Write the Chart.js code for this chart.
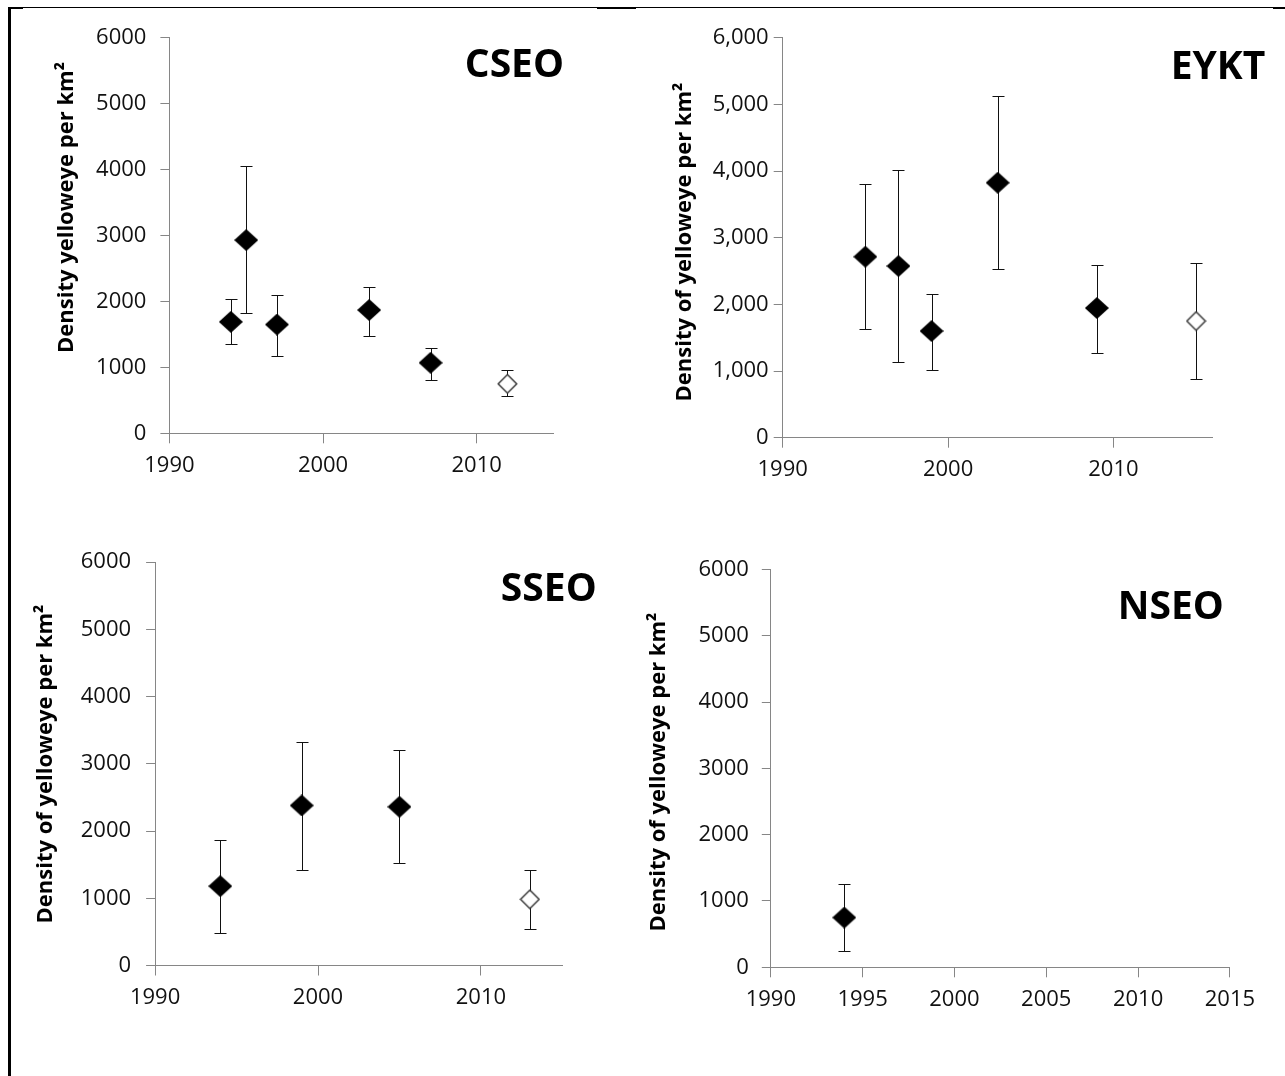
<!DOCTYPE html>
<html>
<head>
<meta charset="utf-8">
<title>Density of yelloweye per km2</title>
<script src="https://cdn.jsdelivr.net/npm/chart.js@4.4.1/dist/chart.umd.min.js"></script>
<style>
  html, body { margin: 0; padding: 0; background: #fff; }
  body { width: 1285px; height: 1076px; position: relative; overflow: hidden; }
  .panel { position: absolute; }
  .rule { position: absolute; background: #000; }
</style>
</head>
<body>
<div class="rule" style="left:8px;top:7px;width:1277px;height:1px"></div>
<div class="rule" style="left:8px;top:7px;width:3px;height:1069px"></div>
<div class="rule" style="left:8px;top:7px;width:15px;height:2px"></div>
<div class="rule" style="left:597px;top:7px;width:39px;height:2px"></div>
<div class="rule" style="left:1273px;top:7px;width:12px;height:2px"></div>

<canvas class="panel" id="cseo" width="580" height="500" style="left:20px;top:10px"></canvas>
<canvas class="panel" id="eykt" width="645" height="500" style="left:640px;top:10px"></canvas>
<canvas class="panel" id="sseo" width="600" height="520" style="left:20px;top:530px"></canvas>
<canvas class="panel" id="nseo" width="645" height="520" style="left:640px;top:530px"></canvas>

<script>
// Density estimates (fish per km2) with lower / upper bounds, per management area.
// Years listed in *OpenYears are the newest estimates, drawn as open diamonds.
const cseoYears = [1994, 1995, 1997, 2003, 2007, 2012];
const cseoDensity = [1690, 2930, 1650, 1870, 1070, 750];
const cseoLow = [1350, 1820, 1170, 1480, 810, 560];
const cseoHigh = [2030, 4060, 2090, 2220, 1300, 960];
const cseoOpenYears = [2012];

const eyktYears = [1995, 1997, 1999, 2003, 2009, 2015];
const eyktDensity = [2715, 2575, 1600, 3825, 1945, 1750];
const eyktLow = [1630, 1130, 1015, 2535, 1265, 880];
const eyktHigh = [3810, 4015, 2150, 5130, 2590, 2625];
const eyktOpenYears = [2015];

const sseoYears = [1994, 1999, 2005, 2013];
const sseoDensity = [1180, 2380, 2360, 985];
const sseoLow = [490, 1425, 1520, 545];
const sseoHigh = [1865, 3330, 3210, 1425];
const sseoOpenYears = [2013];

const nseoYears = [1994];
const nseoDensity = [750];
const nseoLow = [250];
const nseoHigh = [1255];
const nseoOpenYears = [];

// tick values and their labels
const yTickValues = [0, 1000, 2000, 3000, 4000, 5000, 6000];
const yTickLabels = ['0', '1000', '2000', '3000', '4000', '5000', '6000'];
const yTickLabelsComma = ['0', '1,000', '2,000', '3,000', '4,000', '5,000', '6,000'];
const decadeTicks = [1990, 2000, 2010];
const decadeLabels = ['1990', '2000', '2010'];
const fiveYearTicks = [1990, 1995, 2000, 2005, 2010, 2015];
const fiveYearLabels = ['1990', '1995', '2000', '2005', '2010', '2015'];

const axisGray = '#868686';
const tickFont = { family: 'Open Sans', size: 22 };

// Diamond marker drawn once into a small canvas, used as a Chart.js pointStyle.
const makeDiamond = function makeDiamondCanvas(w, h, fill, stroke, lineWidth) {
  const c = document.createElement('canvas');
  c.width = w;
  c.height = h;
  const g = c.getContext('2d');
  const inset = stroke ? lineWidth / 2 + 0.5 : 0;
  g.beginPath();
  g.moveTo(w / 2, inset);
  g.lineTo(w - inset, h / 2);
  g.lineTo(w / 2, h - inset);
  g.lineTo(inset, h / 2);
  g.closePath();
  g.fillStyle = fill;
  g.fill();
  if (stroke) {
    g.lineWidth = lineWidth;
    g.strokeStyle = stroke;
    g.stroke();
  }
  return c;
};

const filledDiamond = makeDiamond(24, 22, '#000', null, 0);
const openDiamond = makeDiamond(21, 21, '#fff', '#3a3a3a', 1.5);

// Vertical error bars with caps, placed through the chart's own scales.
const errorBars = {
  id: 'errorBars',
  beforeDatasetsDraw(chart) {
    const { ctx } = chart;
    const yScale = chart.scales.y;
    ctx.save();
    ctx.strokeStyle = '#111';
    ctx.lineWidth = 1;
    chart.data.datasets.forEach((ds, i) => {
      chart.getDatasetMeta(i).data.forEach((pt, j) => {
        const raw = ds.data[j];
        const x = Math.round(pt.x) + 0.5;
        const top = Math.round(yScale.getPixelForValue(raw.high)) + 0.5;
        const bottom = Math.round(yScale.getPixelForValue(raw.low)) + 0.5;
        ctx.beginPath();
        ctx.moveTo(x, top);
        ctx.lineTo(x, bottom);
        ctx.moveTo(x - 6, top);
        ctx.lineTo(x + 6, top);
        ctx.moveTo(x - 6, bottom);
        ctx.lineTo(x + 6, bottom);
        ctx.stroke();
      });
    });
    ctx.restore();
  },
};

// Area name in the corner and the rotated y-axis title.
const panelText = {
  id: 'panelText',
  afterDraw(chart, args, opts) {
    const { ctx, chartArea } = chart;
    ctx.save();
    ctx.fillStyle = '#000';
    ctx.font = 'bold 39px "Open Sans"';
    ctx.textAlign = 'right';
    ctx.textBaseline = 'alphabetic';
    ctx.fillText(opts.name, chartArea.right + opts.nameDx, chartArea.top + opts.nameDy);

    ctx.translate(opts.titleX, opts.titleY);
    ctx.rotate(-Math.PI / 2);
    ctx.font = 'bold 22px "Open Sans"';
    ctx.textAlign = 'center';
    ctx.textBaseline = 'middle';
    ctx.fillText(opts.yTitle, 0, 0);
    ctx.restore();
  },
};

const panels = [
  {
    id: 'cseo', name: 'CSEO', yTitle: 'Density yelloweye per km\u00b2',
    years: cseoYears, density: cseoDensity, low: cseoLow, high: cseoHigh, openYears: cseoOpenYears,
    xMax: 2015, xTicks: decadeTicks, xLabels: decadeLabels, yLabels: yTickLabels,
    yWidth: 149.4, xHeight: 76.7, padTop: 27.7, padRight: 46.5, yPad: 14,
    nameDx: 10.5, nameDy: 39.6, titleX: 46.7, titleY: 197.5,
  },
  {
    id: 'eykt', name: 'EYKT', yTitle: 'Density of yelloweye per km\u00b2',
    years: eyktYears, density: eyktDensity, low: eyktLow, high: eyktHigh, openYears: eyktOpenYears,
    xMax: 2016, xTicks: decadeTicks, xLabels: decadeLabels, yLabels: yTickLabelsComma,
    yWidth: 142.7, xHeight: 72.3, padTop: 27.7, padRight: 72.4, yPad: 5,
    nameDx: 52.7, nameDy: 41.3, titleX: 45, titleY: 232,
  },
  {
    id: 'sseo', name: 'SSEO', yTitle: 'Density of yelloweye per km\u00b2',
    years: sseoYears, density: sseoDensity, low: sseoLow, high: sseoHigh, openYears: sseoOpenYears,
    xMax: 2015, xTicks: decadeTicks, xLabels: decadeLabels, yLabels: yTickLabels,
    yWidth: 135.1, xHeight: 84.5, padTop: 32, padRight: 57.6, yPad: 15,
    nameDx: 34.3, nameDy: 39.4, titleX: 25.7, titleY: 234,
  },
  {
    id: 'nseo', name: 'NSEO', yTitle: 'Density of yelloweye per km\u00b2',
    years: nseoYears, density: nseoDensity, low: nseoLow, high: nseoHigh, openYears: nseoOpenYears,
    xMax: 2015, xTicks: fiveYearTicks, xLabels: fiveYearLabels, yLabels: yTickLabels,
    yWidth: 130.8, xHeight: 82.7, padTop: 39.4, padRight: 55.1, yPad: 13,
    nameDx: -6, nameDy: 49.6, titleX: 18.5, titleY: 242,
  },
];

const buildPoints = function buildPoints(p, wantOpen) {
  const points = [];
  p.years.forEach((year, i) => {
    if (p.openYears.includes(year) === wantOpen) {
      points.push({ x: year, y: p.density[i], low: p.low[i], high: p.high[i] });
    }
  });
  return points;
};

const renderPanel = function renderPanel(p) {
  new Chart(document.getElementById(p.id), {
    type: 'scatter',
    data: {
      datasets: [
        {
          label: p.name,
          data: buildPoints(p, false),
          pointStyle: filledDiamond,
          pointRadius: 12,
        },
        {
          label: p.name + ' latest',
          data: buildPoints(p, true),
          pointStyle: openDiamond,
          pointRadius: 10,
        },
      ],
    },
    options: {
      responsive: false,
      animation: false,
      events: [],
      layout: { padding: { top: p.padTop, right: p.padRight, bottom: 0, left: 0 } },
      plugins: {
        legend: { display: false },
        tooltip: { enabled: false },
        panelText: {
          name: p.name, yTitle: p.yTitle,
          nameDx: p.nameDx, nameDy: p.nameDy, titleX: p.titleX, titleY: p.titleY,
        },
      },
      scales: {
        x: {
          type: 'linear',
          min: 1990,
          max: p.xMax,
          afterBuildTicks: (scale) => { scale.ticks = p.xTicks.map((v) => ({ value: v })); },
          afterFit: (scale) => { scale.height = p.xHeight; },
          grid: { drawOnChartArea: false, tickLength: 10, color: axisGray },
          border: { color: axisGray },
          ticks: {
            padding: 9,
            color: '#111',
            font: tickFont,
            maxRotation: 0,
            autoSkip: false,
            callback: (v) => p.xLabels[p.xTicks.indexOf(v)],
          },
        },
        y: {
          min: 0,
          max: 6000,
          afterBuildTicks: (scale) => { scale.ticks = yTickValues.map((v) => ({ value: v })); },
          afterFit: (scale) => { scale.width = p.yWidth; },
          grid: { drawOnChartArea: false, tickLength: 9, color: axisGray },
          border: { color: axisGray },
          ticks: {
            padding: p.yPad,
            color: '#111',
            font: tickFont,
            autoSkip: false,
            callback: (v) => p.yLabels[yTickValues.indexOf(v)],
          },
        },
      },
    },
    plugins: [errorBars, panelText],
  });
};

panels.forEach(renderPanel);
</script>
</body>
</html>
